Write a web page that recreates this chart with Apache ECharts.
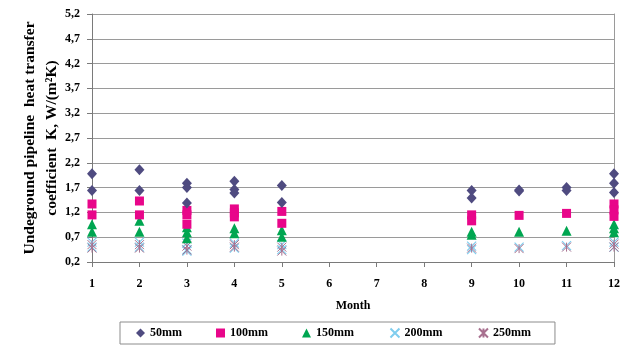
<!DOCTYPE html>
<html>
<head>
<meta charset="utf-8">
<script src="https://cdn.jsdelivr.net/npm/echarts@6/dist/echarts.min.js"></script>
<style>
  html, body { margin: 0; padding: 0; background: #ffffff; }
  #chart { width: 626px; height: 345px; }
</style>
</head>
<body>
<div id="chart"></div>
<script>
// Months with measurements
const months = [1, 2, 3, 4, 5, 9, 10, 11, 12];

// Heat transfer coefficient K, W/(m²K), several readings per month, by insulation thickness
const k50mm  = [[1.98, 1.64], [2.06, 1.64], [1.79, 1.70, 1.39], [1.83, 1.66, 1.59], [1.74, 1.40],
                [1.64, 1.49], [1.65, 1.63], [1.70, 1.64], [1.98, 1.79, 1.60]];
const k100mm = [[1.37, 1.15], [1.43, 1.15], [1.24, 1.15, 0.96], [1.27, 1.19, 1.11], [1.22, 0.98],
                [1.15, 1.03], [1.14], [1.18], [1.37, 1.25, 1.12]];
const k150mm = [[0.96, 0.81], [1.03, 0.81], [0.90, 0.80, 0.68], [0.88, 0.78], [0.84, 0.71],
                [0.81, 0.75], [0.81], [0.83], [0.96, 0.88, 0.80]];
const k200mm = [[0.60, 0.50], [0.60, 0.50], [0.58, 0.45, 0.42], [0.58, 0.48], [0.55, 0.45],
                [0.52, 0.45], [0.50], [0.53], [0.60, 0.50]];
const k250mm = [[0.55, 0.48], [0.55, 0.48], [0.52, 0.44], [0.55, 0.50], [0.50, 0.42],
                [0.48], [0.47], [0.50], [0.56, 0.50]];

const seriesNames = ['50mm', '100mm', '150mm', '200mm', '250mm'];
const yTicks = { min: 0.2, max: 5.2, step: 0.5 };

function pairs(values) {
  const out = [];
  values.forEach((list, i) => list.forEach(v => out.push([months[i], v])));
  return out;
}

const FONT = '"Liberation Serif", "Times New Roman", serif';
const crossPath = 'path://M0 0 L10 10 M10 0 L0 10';
const starPath = 'path://M0 0 L10 10 M10 0 L0 10 M5 0 L5 10';

const chart = echarts.init(document.getElementById('chart'), null, { renderer: 'canvas' });

chart.setOption({
  animation: false,
  backgroundColor: '#ffffff',
  textStyle: { fontFamily: FONT },
  grid: { left: 92, right: 12, top: 14, bottom: 83 },
  legend: {
    data: seriesNames,
    left: 120,
    top: 322,
    padding: [4, 24, 4, 16],
    itemGap: 34,
    itemWidth: 9,
    itemHeight: 9,
    borderColor: '#8c8c8c',
    borderWidth: 1,
    textStyle: { fontFamily: FONT, fontWeight: 'bold', fontSize: 12, color: '#000' }
  },
  xAxis: {
    type: 'value',
    min: 1, max: 12, interval: 1,
    name: 'Month',
    nameLocation: 'middle',
    nameGap: 38,
    nameMoveOverlap: false,
    nameTextStyle: { fontFamily: FONT, fontWeight: 'bold', fontSize: 12, color: '#000' },
    axisLine: { show: true, lineStyle: { color: '#7a7a7a', width: 1 } },
    axisTick: { show: true, length: 5, lineStyle: { color: '#7a7a7a' } },
    axisLabel: { margin: 16, fontFamily: FONT, fontWeight: 'bold', fontSize: 12, color: '#000' },
    splitLine: { show: false }
  },
  yAxis: [{
    type: 'value',
    min: yTicks.min, max: yTicks.max, interval: yTicks.step,
    name: 'Undeground pipeline  heat transfer\ncoefficient  K, W/(m²K)',
    nameLocation: 'middle',
    nameRotate: 90,
    nameGap: 29,
    nameMoveOverlap: false,
    nameTextStyle: { fontFamily: FONT, fontWeight: 'bold', fontSize: 15.5, color: '#000', lineHeight: 22, align: 'center' },
    axisLine: { show: true, lineStyle: { color: '#7a7a7a', width: 1 } },
    axisTick: { show: true, inside: false, length: 5, lineStyle: { color: '#7a7a7a' } },
    axisLabel: {
      margin: 12,
      fontFamily: FONT, fontWeight: 'bold', fontSize: 12, color: '#000',
      formatter: v => v.toFixed(1).replace('.', ',')
    },
    splitLine: { show: true, lineStyle: { color: '#9a9a9a', width: 1 } }
  }, {
    type: 'value',
    position: 'right',
    min: yTicks.min, max: yTicks.max, interval: yTicks.step,
    axisLine: { show: true, lineStyle: { color: '#9a9a9a', width: 1 } },
    axisTick: { show: false },
    axisLabel: { show: false },
    splitLine: { show: false }
  }],
  series: [
    {
      name: '50mm', type: 'scatter', data: pairs(k50mm),
      symbol: 'diamond', symbolSize: [10, 11],
      itemStyle: { color: '#4f4b80', opacity: 1 }, z: 5
    },
    {
      name: '100mm', type: 'scatter', data: pairs(k100mm),
      symbol: 'rect', symbolSize: 9,
      itemStyle: { color: '#e8068a', opacity: 1 }, z: 4
    },
    {
      name: '150mm', type: 'scatter', data: pairs(k150mm),
      symbol: 'triangle', symbolSize: 10,
      itemStyle: { color: '#00a651', opacity: 1 }, z: 3
    },
    {
      name: '200mm', type: 'scatter', data: pairs(k200mm),
      symbol: crossPath, symbolSize: 9,
      itemStyle: { color: 'none', borderColor: '#7fcdee', borderWidth: 1.2, opacity: 1 }, z: 2
    },
    {
      name: '250mm', type: 'scatter', data: pairs(k250mm),
      symbol: starPath, symbolSize: 9,
      itemStyle: { color: 'none', borderColor: '#a8708f', borderWidth: 1, opacity: 1 }, z: 2
    }
  ]
});
</script>
</body>
</html>
